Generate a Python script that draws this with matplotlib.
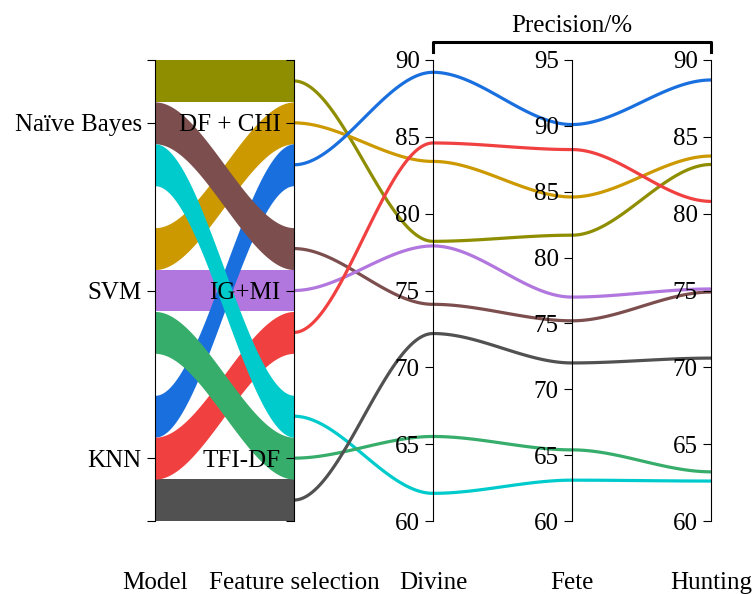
import numpy as np
import matplotlib.pyplot as plt

plt.rcParams['font.family'] = ['Liberation Serif', 'DejaVu Serif']
plt.rcParams['font.size'] = 18

models = ['Naïve Bayes', 'SVM', 'KNN']
features = ['DF + CHI', 'IG+MI', 'TFI-DF']
datasets = ['Divine', 'Fete', 'Hunting']
ranges = [(60, 90), (60, 95), (60, 90)]

# one record per model / feature selection pair
rec_model = ['Naïve Bayes'] * 3 + ['SVM'] * 3 + ['KNN'] * 3
rec_feature = features * 3
colors = ['#8E8E00', '#7D4E4E', '#00CBCC', '#CC9900', '#B177DE',
          '#37AD6B', '#1A6FDF', '#F14040', '#515151']
divine = [78.2, 74.1, 61.8, 83.4, 77.9, 65.5, 89.2, 84.6, 72.2]
fete = [81.7, 75.2, 63.1, 84.6, 77.0, 65.4, 90.1, 88.2, 72.0]
hunting = [83.2, 74.9, 62.6, 83.75, 75.1, 63.2, 88.7, 80.8, 70.6]

nslot = 11  # 3 blocks of 3 plus 2 gaps
h = 1 / nslot


def slot_top(cat, k):
    return 1 - (4 * cat + k) * h


def smooth(x0, y0, x1, y1, n=100):
    t = np.linspace(0, 1, n)
    s = 3 * t**2 - 2 * t**3
    return x0 + (x1 - x0) * t, y0 + (y1 - y0) * s


fig = plt.figure(figsize=(7.54, 5.94), dpi=100)
host = fig.add_axes([155 / 754, 73 / 594, 556 / 754, 461 / 594])
host.set_xlim(0, 4)
host.set_ylim(0, 1)

# ribbons between Model and Feature selection
order = [0, 8, 4, 3, 6, 7, 1, 5, 2]
for i in order:
    mi = models.index(rec_model[i])
    fi = features.index(rec_feature[i])
    x, top = smooth(0, slot_top(mi, fi), 1, slot_top(fi, mi), 200)
    host.fill_between(x, top - h, top, color=colors[i], lw=0)

# lines across the precision axes
vals = [divine, fete, hunting]
for i in range(9):
    mi = models.index(rec_model[i])
    fi = features.index(rec_feature[i])
    ys = [slot_top(fi, mi) - h / 2]
    for v, (lo, hi) in zip(vals, ranges):
        ys.append((v[i] - lo) / (hi - lo))
    for j in range(3):
        x, y = smooth(j + 1, ys[j], j + 2, ys[j + 1])
        host.plot(x, y, color=colors[i], lw=2.3, clip_on=False,
                  solid_capstyle='butt')

for sp in ['top', 'right', 'bottom']:
    host.spines[sp].set_visible(False)
host.spines['left'].set_linewidth(0.8)
host.set_yticks([slot_top(c, 1) - h / 2 for c in range(3)])
host.set_yticklabels(models)
host.set_yticks([0, 1], minor=True)
host.tick_params(axis='y', which='both', length=6, width=0.8)
host.set_xticks(range(5))
host.set_xticklabels(['Model', 'Feature selection'] + datasets)
host.tick_params(axis='x', length=0, pad=37)

# feature selection axis
ax_fs = host.twinx()
ax_fs.set_ylim(0, 1)
ax_fs.set_yticks([slot_top(c, 1) - h / 2 for c in range(3)])
ax_fs.set_yticklabels(features)
ax_fs.set_yticks([0, 1], minor=True)

twins = [ax_fs]
for j, (lo, hi) in enumerate(ranges):
    a = host.twinx()
    a.set_ylim(lo, hi)
    a.set_yticks(np.arange(lo, hi + 1, 5))
    twins.append(a)

for j, a in enumerate(twins):
    for sp in ['top', 'right', 'bottom']:
        a.spines[sp].set_visible(False)
    a.spines['left'].set_visible(True)
    a.spines['left'].set_position(('axes', (j + 1) / 4))
    a.spines['left'].set_linewidth(0.8)
    a.yaxis.set_ticks_position('left')
    a.yaxis.set_label_position('left')
    a.tick_params(axis='y', which='both', length=6, width=0.8)

# bracket over the precision axes
host.plot([2, 2, 4, 4], [1.017, 1.039, 1.039, 1.017], color='k', lw=2.2,
          clip_on=False)
host.text(3, 1.073, 'Precision/%', ha='center', va='center')

fig.savefig('out.png', dpi=100)
